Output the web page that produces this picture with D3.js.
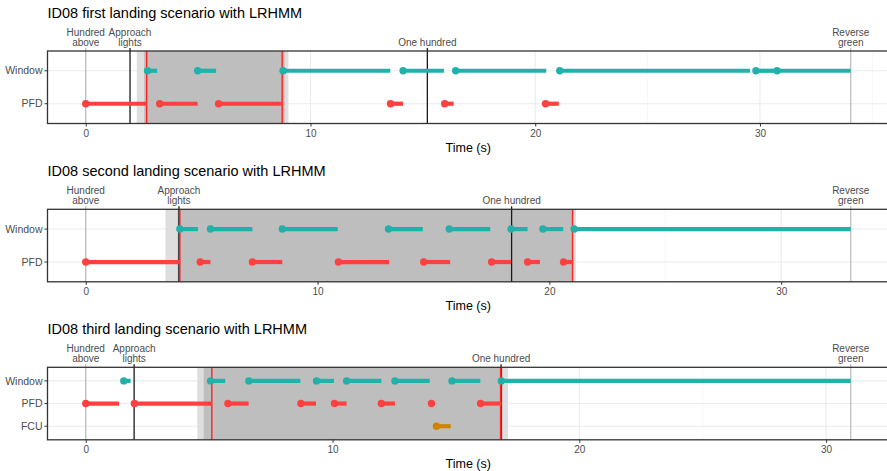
<!DOCTYPE html>
<html>
<head>
<meta charset="utf-8">
<script src="https://cdn.jsdelivr.net/npm/d3@7"></script>
<style>
  body { margin: 0; background: #fff; }
  svg { display: block; font-family: "Liberation Sans", Arial, sans-serif; }
</style>
</head>
<body>
<div id="chart"></div>
<script>
// ---- data (times in seconds) ----
const titles = [
  "ID08 first landing scenario with LRHMM",
  "ID08 second landing scenario with LRHMM",
  "ID08 third landing scenario with LRHMM"
];
const eventNames = [["Hundred", "above"], ["Approach", "lights"], ["One hundred"], ["Reverse", "green"]];
const eventGray = [true, false, false, true];
const eventTimes1 = [0, 1.97, 15.2, 34.04];
const eventTimes2 = [0, 4.02, 18.37, 33];
const eventTimes3 = [0, 1.96, 16.83, 31];

const redLines1 = [2.71, 8.74];
const redLines2 = [4.06, 21.0];
const redLines3 = [5.11, 16.81];

const outerBand1 = [2.27, 9.02], innerBand1 = [2.6, 8.85];
const outerBand2 = [3.44, 21.14], innerBand2 = [3.96, 21.0];
const outerBand3 = [4.52, 17.11], innerBand3 = [4.78, 16.9];

const rows1 = ["Window", "PFD"];
const rows2 = ["Window", "PFD"];
const rows3 = ["Window", "PFD", "FCU"];

const window1 = [[2.75, 3.18], [4.98, 5.8], [8.78, 13.55], [14.12, 15.94], [16.46, 20.49],
                 [21.09, 29.56], [29.82, 30.76], [30.76, 34.04]];
const pfd1 = [[0, 2.71], [3.29, 4.98], [5.91, 8.74], [13.56, 14.12], [15.97, 16.37], [20.46, 21.05]];

const window2 = [[4.06, 4.84], [5.38, 7.19], [8.48, 10.87], [13.06, 14.54], [15.68, 17.45],
                 [18.35, 19.06], [19.72, 20.6], [21.07, 33]];
const pfd2 = [[0, 4.06], [4.94, 5.38], [7.19, 8.48], [10.9, 13.08], [14.58, 15.72],
              [17.51, 18.35], [19.06, 19.59], [20.61, 21.04]];

const window3 = [[1.54, 1.82], [5.06, 5.65], [6.61, 8.7], [9.35, 10.06], [10.57, 11.98],
                 [12.53, 13.94], [14.84, 15.99], [16.84, 31]];
const pfd3 = [[0, 1.35], [1.97, 5.09], [5.76, 6.6], [8.72, 9.33], [10.08, 10.57],
              [11.98, 12.53], [14.01, 14.05], [16.0, 16.84]];
const fcu3 = [[14.21, 14.79]];

const seriesColor = { Window: "#20B2AA", PFD: "#FF4040", FCU: "#CD8500" };

// ---- layout ----
const width = 887, height = 471;
const plotLeft = 47.5, plotRight = 889;
const panelTops = [51, 209.3, 367.3];
const panelH = 72.5;

const panels = [
  { title: titles[0], events: eventTimes1, red: redLines1, outer: outerBand1, inner: innerBand1, rows: rows1, data: { Window: window1, PFD: pfd1 } },
  { title: titles[1], events: eventTimes2, red: redLines2, outer: outerBand2, inner: innerBand2, rows: rows2, data: { Window: window2, PFD: pfd2 } },
  { title: titles[2], events: eventTimes3, red: redLines3, outer: outerBand3, inner: innerBand3, rows: rows3, data: { Window: window3, PFD: pfd3, FCU: fcu3 } }
];

const svg = d3.select("#chart").append("svg")
  .attr("width", width)
  .attr("height", height);

panels.forEach((p, i) => {
  const top = panelTops[i], bottom = top + panelH;
  const tmax = d3.max(p.events);
  const pad = tmax * 0.05;
  const x = d3.scaleLinear().domain([-pad, tmax + pad]).range([plotLeft, plotRight]);
  const y = d3.scalePoint().domain(p.rows).range([top, bottom]).padding(0.6);

  const g = svg.append("g");

  // title
  g.append("text")
    .attr("x", plotLeft)
    .attr("y", top - 33)
    .attr("font-size", 14.5)
    .attr("fill", "#000")
    .text(p.title);

  // grid
  const majors = d3.range(0, tmax + pad, 10);
  const minors = d3.range(5, tmax + pad, 10);
  g.append("g").selectAll("line").data(minors).join("line")
    .attr("x1", d => x(d)).attr("x2", d => x(d))
    .attr("y1", top).attr("y2", bottom)
    .attr("stroke", "#f2f2f2").attr("stroke-width", 0.6);
  g.append("g").selectAll("line").data(majors).join("line")
    .attr("x1", d => x(d)).attr("x2", d => x(d))
    .attr("y1", top).attr("y2", bottom)
    .attr("stroke", "#ebebeb").attr("stroke-width", 1.1);
  g.append("g").selectAll("line").data(p.rows).join("line")
    .attr("x1", plotLeft).attr("x2", plotRight)
    .attr("y1", d => y(d)).attr("y2", d => y(d))
    .attr("stroke", "#ebebeb").attr("stroke-width", 1.1);

  // bands
  g.append("rect")
    .attr("x", x(p.outer[0])).attr("width", x(p.outer[1]) - x(p.outer[0]))
    .attr("y", top).attr("height", panelH)
    .attr("fill", "#dedede");
  g.append("rect")
    .attr("x", x(p.inner[0])).attr("width", x(p.inner[1]) - x(p.inner[0]))
    .attr("y", top).attr("height", panelH)
    .attr("fill", "#bebebe");

  // event lines, labels and top ticks
  p.events.forEach((t, k) => {
    g.append("line")
      .attr("x1", x(t)).attr("x2", x(t))
      .attr("y1", top - 3).attr("y2", bottom)
      .attr("stroke", eventGray[k] ? "#b3b3b3" : "#1a1a1a")
      .attr("stroke-width", eventGray[k] ? 1.1 : 1.3);
    const lines = eventNames[k];
    const txt = g.append("text")
      .attr("x", x(t))
      .attr("text-anchor", "middle")
      .attr("font-size", 10)
      .attr("fill", "#4d4d4d");
    lines.forEach((ln, j) => {
      txt.append("tspan")
        .attr("x", x(t))
        .attr("y", top - 5 - (lines.length - 1 - j) * 10)
        .text(ln);
    });
  });

  // red boundary lines
  g.append("g").selectAll("line").data(p.red).join("line")
    .attr("x1", d => x(d)).attr("x2", d => x(d))
    .attr("y1", top).attr("y2", bottom)
    .attr("stroke", "#FF2020").attr("stroke-width", 1.4);

  // segments and dots
  p.rows.forEach(r => {
    const segs = p.data[r];
    g.append("g").selectAll("line").data(segs).join("line")
      .attr("x1", d => x(d[0])).attr("x2", d => x(d[1]))
      .attr("y1", y(r)).attr("y2", y(r))
      .attr("stroke", seriesColor[r]).attr("stroke-width", 4.2);
    g.append("g").selectAll("circle").data(segs).join("circle")
      .attr("cx", d => x(d[0])).attr("cy", y(r)).attr("r", 3.7)
      .attr("fill", seriesColor[r]);
  });

  // panel border
  g.append("rect")
    .attr("x", plotLeft).attr("y", top)
    .attr("width", plotRight - plotLeft).attr("height", panelH)
    .attr("fill", "none").attr("stroke", "#333").attr("stroke-width", 1.3);

  // y axis
  const yAxis = g.append("g");
  p.rows.forEach(r => {
    yAxis.append("line")
      .attr("x1", plotLeft - 3).attr("x2", plotLeft)
      .attr("y1", y(r)).attr("y2", y(r))
      .attr("stroke", "#333").attr("stroke-width", 1);
    yAxis.append("text")
      .attr("x", plotLeft - 5).attr("y", y(r))
      .attr("dy", "0.35em")
      .attr("text-anchor", "end")
      .attr("font-size", 10.5)
      .attr("fill", "#4d4d4d")
      .text(r);
  });

  // x axis
  const xAxis = d3.axisBottom(x).tickValues(majors).tickSize(3).tickPadding(3).tickFormat(d3.format("d"));
  const ax = g.append("g").attr("transform", `translate(0,${bottom})`).call(xAxis);
  ax.select(".domain").remove();
  ax.selectAll(".tick line").attr("stroke", "#333");
  ax.selectAll(".tick text").attr("fill", "#4d4d4d").attr("font-size", 10)
    .attr("font-family", "'Liberation Sans', Arial, sans-serif");

  g.append("text")
    .attr("x", (plotLeft + plotRight) / 2)
    .attr("y", bottom + 28)
    .attr("text-anchor", "middle")
    .attr("font-size", 12.5)
    .attr("fill", "#000")
    .text("Time (s)");
});
</script>
</body>
</html>
